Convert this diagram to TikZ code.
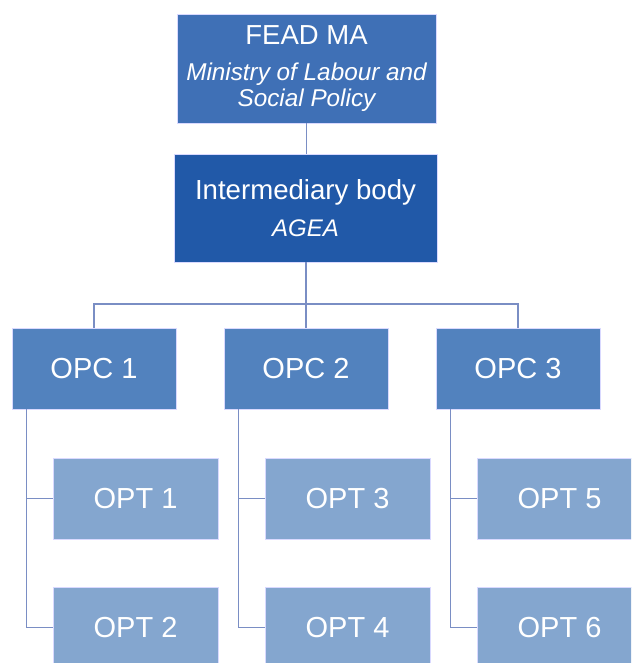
\documentclass[tikz,border=0pt]{standalone}
\usepackage{fontspec}
\setmainfont{Liberation Sans}
\definecolor{feadc}{HTML}{3F70B6}
\definecolor{ibc}{HTML}{2159A8}
\definecolor{opcc}{HTML}{5282BE}
\definecolor{optc}{HTML}{84A6CF}
\definecolor{linec}{HTML}{7A8EC4}
\begin{document}
\begin{tikzpicture}[x=1pt,y=-1pt,
  box/.style={rectangle,draw=white!85!blue,line width=0.6pt,text=white,inner sep=0pt,align=center},
  feadbox/.style={box,fill=feadc,minimum width=259pt,minimum height=109pt,font=\fontsize{24.3}{26}\selectfont},
  ibbox/.style={box,fill=ibc,minimum width=263pt,minimum height=108pt,font=\fontsize{24}{26}\selectfont},
  opcbox/.style={box,fill=opcc,minimum width=164pt,minimum height=81pt,font=\fontsize{29}{34}\selectfont},
  optbox/.style={box,fill=optc,minimum width=165pt,minimum height=81pt,font=\fontsize{29}{34}\selectfont},
  conn/.style={draw=linec,line width=1.4pt}]
\useasboundingbox (0,0) rectangle (631,663);
\clip (0,0) rectangle (631,663);
\coordinate (bar) at (306,304);
\node[feadbox] (fead) at (306.5,68.5) {{\fontsize{27.5}{26}\selectfont FEAD MA}\\[10pt]
  \itshape Ministry of Labour and\\
  \itshape Social Policy};
\node[ibbox] (ib) at (305.5,208) {{\fontsize{27.6}{26}\selectfont Intermediary body}\\[10.7pt]
  \itshape AGEA};
\node[opcbox] (opc1) at (94,368.5) {OPC 1};
\node[opcbox] (opc2) at (306,368.5) {OPC 2};
\node[opcbox] (opc3) at (518,368.5) {OPC 3};
\node[optbox] (opt1) at (135.5,498.5) {OPT 1};
\node[optbox] (opt2) at (135.5,627.5) {OPT 2};
\node[optbox] (opt3) at (347.5,498.5) {OPT 3};
\node[optbox] (opt4) at (347.5,627.5) {OPT 4};
\node[optbox] (opt5) at (559.5,498.5) {OPT 5};
\node[optbox] (opt6) at (559.5,627.5) {OPT 6};
\path[conn] (fead.south) -- (ib.north -| fead.south);
\path[conn] (ib.south -| bar) -- (bar);
\path[conn] (opc1.north) |- (bar) -| (opc3.north);
\path[conn] (bar) -- (opc2.north);
\path[conn] ([xshift=15pt]opc1.south west) |- (opt1.west);
\path[conn] ([xshift=15pt]opc1.south west) |- (opt2.west);
\path[conn] ([xshift=15pt]opc2.south west) |- (opt3.west);
\path[conn] ([xshift=15pt]opc2.south west) |- (opt4.west);
\path[conn] ([xshift=15pt]opc3.south west) |- (opt5.west);
\path[conn] ([xshift=15pt]opc3.south west) |- (opt6.west);
\end{tikzpicture}
\end{document}
